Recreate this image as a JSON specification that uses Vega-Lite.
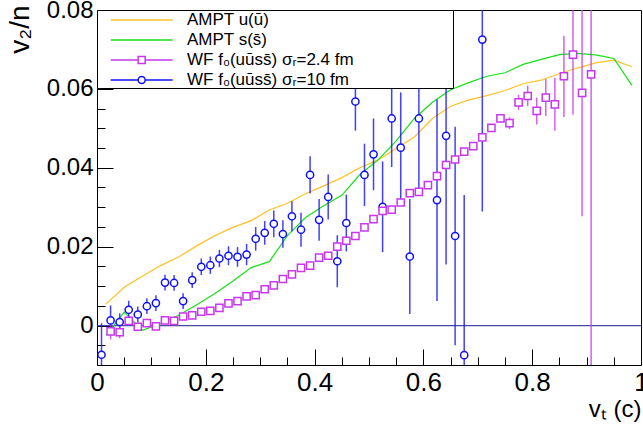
{
  "$schema": "https://vega.github.io/schema/vega-lite/v6.json",
  "width": 544,
  "height": 355,
  "autosize": {"type": "none"},
  "padding": {"left": 97, "top": 10, "right": 2, "bottom": 71},
  "background": "white",
  "config": {"view": {"stroke": "black", "strokeWidth": 1}, "font": "Liberation Sans"},
  "resolve": {"axis": {"x": "independent", "y": "independent"}},
  "datasets": {
    "ampt": [
      {"s": "AMPT u(ū)", "x": 0.0167, "y": 0.0055}, {"s": "AMPT u(ū)", "x": 0.05, "y": 0.0097}, {"s": "AMPT u(ū)", "x": 0.0833, "y": 0.0125}, {"s": "AMPT u(ū)", "x": 0.1167, "y": 0.0152}, {"s": "AMPT u(ū)", "x": 0.15, "y": 0.0174}, {"s": "AMPT u(ū)", "x": 0.1833, "y": 0.0202}, {"s": "AMPT u(ū)", "x": 0.2167, "y": 0.0228}, {"s": "AMPT u(ū)", "x": 0.25, "y": 0.0249}, {"s": "AMPT u(ū)", "x": 0.2833, "y": 0.0266}, {"s": "AMPT u(ū)", "x": 0.3167, "y": 0.0293}, {"s": "AMPT u(ū)", "x": 0.35, "y": 0.031}, {"s": "AMPT u(ū)", "x": 0.3833, "y": 0.0334}, {"s": "AMPT u(ū)", "x": 0.4167, "y": 0.0354}, {"s": "AMPT u(ū)", "x": 0.45, "y": 0.0375}, {"s": "AMPT u(ū)", "x": 0.4833, "y": 0.04}, {"s": "AMPT u(ū)", "x": 0.5167, "y": 0.042}, {"s": "AMPT u(ū)", "x": 0.55, "y": 0.0449}, {"s": "AMPT u(ū)", "x": 0.5833, "y": 0.0478}, {"s": "AMPT u(ū)", "x": 0.6167, "y": 0.0525}, {"s": "AMPT u(ū)", "x": 0.65, "y": 0.0556}, {"s": "AMPT u(ū)", "x": 0.6833, "y": 0.0572}, {"s": "AMPT u(ū)", "x": 0.7167, "y": 0.0583}, {"s": "AMPT u(ū)", "x": 0.75, "y": 0.0596}, {"s": "AMPT u(ū)", "x": 0.7833, "y": 0.0613}, {"s": "AMPT u(ū)", "x": 0.8167, "y": 0.0622}, {"s": "AMPT u(ū)", "x": 0.85, "y": 0.0639}, {"s": "AMPT u(ū)", "x": 0.8833, "y": 0.0653}, {"s": "AMPT u(ū)", "x": 0.9167, "y": 0.0666}, {"s": "AMPT u(ū)", "x": 0.95, "y": 0.0673}, {"s": "AMPT u(ū)", "x": 0.9833, "y": 0.0656},
      {"s": "AMPT s(s̄)", "x": 0.0167, "y": -0.0024}, {"s": "AMPT s(s̄)", "x": 0.05, "y": 0.0034}, {"s": "AMPT s(s̄)", "x": 0.0833, "y": -0.0012}, {"s": "AMPT s(s̄)", "x": 0.1167, "y": 0.0005}, {"s": "AMPT s(s̄)", "x": 0.15, "y": 0.0026}, {"s": "AMPT s(s̄)", "x": 0.1833, "y": 0.0053}, {"s": "AMPT s(s̄)", "x": 0.2167, "y": 0.0081}, {"s": "AMPT s(s̄)", "x": 0.25, "y": 0.0113}, {"s": "AMPT s(s̄)", "x": 0.2833, "y": 0.0147}, {"s": "AMPT s(s̄)", "x": 0.3167, "y": 0.0162}, {"s": "AMPT s(s̄)", "x": 0.35, "y": 0.0228}, {"s": "AMPT s(s̄)", "x": 0.3833, "y": 0.0274}, {"s": "AMPT s(s̄)", "x": 0.4167, "y": 0.0304}, {"s": "AMPT s(s̄)", "x": 0.45, "y": 0.033}, {"s": "AMPT s(s̄)", "x": 0.4833, "y": 0.0383}, {"s": "AMPT s(s̄)", "x": 0.5167, "y": 0.042}, {"s": "AMPT s(s̄)", "x": 0.55, "y": 0.0468}, {"s": "AMPT s(s̄)", "x": 0.5833, "y": 0.0525}, {"s": "AMPT s(s̄)", "x": 0.6167, "y": 0.0566}, {"s": "AMPT s(s̄)", "x": 0.65, "y": 0.0598}, {"s": "AMPT s(s̄)", "x": 0.6833, "y": 0.0616}, {"s": "AMPT s(s̄)", "x": 0.7167, "y": 0.0632}, {"s": "AMPT s(s̄)", "x": 0.75, "y": 0.0641}, {"s": "AMPT s(s̄)", "x": 0.7833, "y": 0.0662}, {"s": "AMPT s(s̄)", "x": 0.8167, "y": 0.0675}, {"s": "AMPT s(s̄)", "x": 0.85, "y": 0.0687}, {"s": "AMPT s(s̄)", "x": 0.8833, "y": 0.069}, {"s": "AMPT s(s̄)", "x": 0.9167, "y": 0.0686}, {"s": "AMPT s(s̄)", "x": 0.95, "y": 0.0677}, {"s": "AMPT s(s̄)", "x": 0.9833, "y": 0.0609}
    ],
    "wf": [
      {"s": "WF f₀(uūss̄) σᵣ=10 fm", "x": 0.0083, "y": -0.0074, "lo": -0.0154, "hi": 0.0006},
      {"s": "WF f₀(uūss̄) σᵣ=10 fm", "x": 0.025, "y": 0.0013, "lo": -0.0025, "hi": 0.0051},
      {"s": "WF f₀(uūss̄) σᵣ=10 fm", "x": 0.0417, "y": 0.0009, "lo": -0.0013, "hi": 0.0031},
      {"s": "WF f₀(uūss̄) σᵣ=10 fm", "x": 0.0583, "y": 0.004, "lo": 0.0017, "hi": 0.0063},
      {"s": "WF f₀(uūss̄) σᵣ=10 fm", "x": 0.075, "y": 0.0028, "lo": 0.0008, "hi": 0.0048},
      {"s": "WF f₀(uūss̄) σᵣ=10 fm", "x": 0.0917, "y": 0.0049, "lo": 0.0029, "hi": 0.0069},
      {"s": "WF f₀(uūss̄) σᵣ=10 fm", "x": 0.1083, "y": 0.0057, "lo": 0.0037, "hi": 0.0077},
      {"s": "WF f₀(uūss̄) σᵣ=10 fm", "x": 0.125, "y": 0.0109, "lo": 0.0089, "hi": 0.0129},
      {"s": "WF f₀(uūss̄) σᵣ=10 fm", "x": 0.1417, "y": 0.0108, "lo": 0.0088, "hi": 0.0128},
      {"s": "WF f₀(uūss̄) σᵣ=10 fm", "x": 0.1583, "y": 0.0062, "lo": 0.0042, "hi": 0.0082},
      {"s": "WF f₀(uūss̄) σᵣ=10 fm", "x": 0.175, "y": 0.0115, "lo": 0.0095, "hi": 0.0135},
      {"s": "WF f₀(uūss̄) σᵣ=10 fm", "x": 0.1917, "y": 0.0149, "lo": 0.0128, "hi": 0.017},
      {"s": "WF f₀(uūss̄) σᵣ=10 fm", "x": 0.2083, "y": 0.0153, "lo": 0.0131, "hi": 0.0175},
      {"s": "WF f₀(uūss̄) σᵣ=10 fm", "x": 0.225, "y": 0.017, "lo": 0.0148, "hi": 0.0192},
      {"s": "WF f₀(uūss̄) σᵣ=10 fm", "x": 0.2417, "y": 0.0177, "lo": 0.0153, "hi": 0.0201},
      {"s": "WF f₀(uūss̄) σᵣ=10 fm", "x": 0.2583, "y": 0.0174, "lo": 0.0149, "hi": 0.0199},
      {"s": "WF f₀(uūss̄) σᵣ=10 fm", "x": 0.275, "y": 0.018, "lo": 0.0153, "hi": 0.0207},
      {"s": "WF f₀(uūss̄) σᵣ=10 fm", "x": 0.2917, "y": 0.022, "lo": 0.019, "hi": 0.025},
      {"s": "WF f₀(uūss̄) σᵣ=10 fm", "x": 0.3083, "y": 0.0235, "lo": 0.0205, "hi": 0.0265},
      {"s": "WF f₀(uūss̄) σᵣ=10 fm", "x": 0.325, "y": 0.0258, "lo": 0.0224, "hi": 0.0292},
      {"s": "WF f₀(uūss̄) σᵣ=10 fm", "x": 0.3417, "y": 0.0232, "lo": 0.0197, "hi": 0.0267},
      {"s": "WF f₀(uūss̄) σᵣ=10 fm", "x": 0.3583, "y": 0.0277, "lo": 0.0239, "hi": 0.0315},
      {"s": "WF f₀(uūss̄) σᵣ=10 fm", "x": 0.375, "y": 0.0243, "lo": 0.02, "hi": 0.0286},
      {"s": "WF f₀(uūss̄) σᵣ=10 fm", "x": 0.3917, "y": 0.0382, "lo": 0.0335, "hi": 0.0429},
      {"s": "WF f₀(uūss̄) σᵣ=10 fm", "x": 0.4083, "y": 0.0268, "lo": 0.0215, "hi": 0.0321},
      {"s": "WF f₀(uūss̄) σᵣ=10 fm", "x": 0.425, "y": 0.0326, "lo": 0.0269, "hi": 0.0383},
      {"s": "WF f₀(uūss̄) σᵣ=10 fm", "x": 0.4417, "y": 0.0163, "lo": 0.0097, "hi": 0.0229},
      {"s": "WF f₀(uūss̄) σᵣ=10 fm", "x": 0.4583, "y": 0.026, "lo": 0.0188, "hi": 0.0332},
      {"s": "WF f₀(uūss̄) σᵣ=10 fm", "x": 0.475, "y": 0.0568, "lo": 0.0494, "hi": 0.0642},
      {"s": "WF f₀(uūss̄) σᵣ=10 fm", "x": 0.4917, "y": 0.0382, "lo": 0.0303, "hi": 0.0461},
      {"s": "WF f₀(uūss̄) σᵣ=10 fm", "x": 0.5083, "y": 0.0434, "lo": 0.0343, "hi": 0.0525},
      {"s": "WF f₀(uūss̄) σᵣ=10 fm", "x": 0.525, "y": 0.0301, "lo": 0.0186, "hi": 0.0416},
      {"s": "WF f₀(uūss̄) σᵣ=10 fm", "x": 0.5417, "y": 0.0525, "lo": 0.0402, "hi": 0.0648},
      {"s": "WF f₀(uūss̄) σᵣ=10 fm", "x": 0.5583, "y": 0.0451, "lo": 0.0311, "hi": 0.0591},
      {"s": "WF f₀(uūss̄) σᵣ=10 fm", "x": 0.575, "y": 0.0175, "lo": 0.0029, "hi": 0.0321},
      {"s": "WF f₀(uūss̄) σᵣ=10 fm", "x": 0.5917, "y": 0.0525, "lo": 0.0349, "hi": 0.0701},
      {"s": "WF f₀(uūss̄) σᵣ=10 fm", "x": 0.625, "y": 0.0318, "lo": 0.0062, "hi": 0.0574},
      {"s": "WF f₀(uūss̄) σᵣ=10 fm", "x": 0.6417, "y": 0.0481, "lo": 0.0155, "hi": 0.0807},
      {"s": "WF f₀(uūss̄) σᵣ=10 fm", "x": 0.6583, "y": 0.0227, "lo": -0.005, "hi": 0.0504},
      {"s": "WF f₀(uūss̄) σᵣ=10 fm", "x": 0.675, "y": -0.0075, "lo": -0.0481, "hi": 0.0331},
      {"s": "WF f₀(uūss̄) σᵣ=10 fm", "x": 0.7083, "y": 0.0725, "lo": 0.0289, "hi": 0.1161},
      {"s": "WF f₀(uūss̄) σᵣ=2.4 fm", "x": 0.025, "y": -0.0015, "lo": -0.0035, "hi": 0.0005},
      {"s": "WF f₀(uūss̄) σᵣ=2.4 fm", "x": 0.0417, "y": -0.0017, "lo": -0.0032, "hi": -0.0002},
      {"s": "WF f₀(uūss̄) σᵣ=2.4 fm", "x": 0.0583, "y": 0.0012, "lo": 0.0004, "hi": 0.002},
      {"s": "WF f₀(uūss̄) σᵣ=2.4 fm", "x": 0.075, "y": -0.0003, "lo": -0.0009, "hi": 0.0003},
      {"s": "WF f₀(uūss̄) σᵣ=2.4 fm", "x": 0.0917, "y": 0.0006, "lo": 0.0001, "hi": 0.0011},
      {"s": "WF f₀(uūss̄) σᵣ=2.4 fm", "x": 0.1083, "y": -0.0002, "lo": -0.0007, "hi": 0.0003},
      {"s": "WF f₀(uūss̄) σᵣ=2.4 fm", "x": 0.125, "y": 0.0013, "lo": 0.0008, "hi": 0.0018},
      {"s": "WF f₀(uūss̄) σᵣ=2.4 fm", "x": 0.1417, "y": 0.0012, "lo": 0.0007, "hi": 0.0017},
      {"s": "WF f₀(uūss̄) σᵣ=2.4 fm", "x": 0.1583, "y": 0.0023, "lo": 0.0019, "hi": 0.0027},
      {"s": "WF f₀(uūss̄) σᵣ=2.4 fm", "x": 0.175, "y": 0.0026, "lo": 0.0022, "hi": 0.003},
      {"s": "WF f₀(uūss̄) σᵣ=2.4 fm", "x": 0.1917, "y": 0.0035, "lo": 0.0031, "hi": 0.0039},
      {"s": "WF f₀(uūss̄) σᵣ=2.4 fm", "x": 0.2083, "y": 0.0037, "lo": 0.0033, "hi": 0.0041},
      {"s": "WF f₀(uūss̄) σᵣ=2.4 fm", "x": 0.225, "y": 0.0045, "lo": 0.0041, "hi": 0.0049},
      {"s": "WF f₀(uūss̄) σᵣ=2.4 fm", "x": 0.2417, "y": 0.0056, "lo": 0.0052, "hi": 0.006},
      {"s": "WF f₀(uūss̄) σᵣ=2.4 fm", "x": 0.2583, "y": 0.0062, "lo": 0.0058, "hi": 0.0066},
      {"s": "WF f₀(uūss̄) σᵣ=2.4 fm", "x": 0.275, "y": 0.0074, "lo": 0.007, "hi": 0.0078},
      {"s": "WF f₀(uūss̄) σᵣ=2.4 fm", "x": 0.2917, "y": 0.0077, "lo": 0.0073, "hi": 0.0081},
      {"s": "WF f₀(uūss̄) σᵣ=2.4 fm", "x": 0.3083, "y": 0.0092, "lo": 0.0088, "hi": 0.0096},
      {"s": "WF f₀(uūss̄) σᵣ=2.4 fm", "x": 0.325, "y": 0.0102, "lo": 0.0098, "hi": 0.0106},
      {"s": "WF f₀(uūss̄) σᵣ=2.4 fm", "x": 0.3417, "y": 0.0118, "lo": 0.0114, "hi": 0.0122},
      {"s": "WF f₀(uūss̄) σᵣ=2.4 fm", "x": 0.3583, "y": 0.013, "lo": 0.0126, "hi": 0.0134},
      {"s": "WF f₀(uūss̄) σᵣ=2.4 fm", "x": 0.375, "y": 0.0146, "lo": 0.0142, "hi": 0.015},
      {"s": "WF f₀(uūss̄) σᵣ=2.4 fm", "x": 0.3917, "y": 0.0152, "lo": 0.0148, "hi": 0.0156},
      {"s": "WF f₀(uūss̄) σᵣ=2.4 fm", "x": 0.4083, "y": 0.0172, "lo": 0.0168, "hi": 0.0176},
      {"s": "WF f₀(uūss̄) σᵣ=2.4 fm", "x": 0.425, "y": 0.0177, "lo": 0.0173, "hi": 0.0181},
      {"s": "WF f₀(uūss̄) σᵣ=2.4 fm", "x": 0.4417, "y": 0.02, "lo": 0.0196, "hi": 0.0204},
      {"s": "WF f₀(uūss̄) σᵣ=2.4 fm", "x": 0.4583, "y": 0.0215, "lo": 0.0211, "hi": 0.0219},
      {"s": "WF f₀(uūss̄) σᵣ=2.4 fm", "x": 0.475, "y": 0.0227, "lo": 0.0223, "hi": 0.0231},
      {"s": "WF f₀(uūss̄) σᵣ=2.4 fm", "x": 0.4917, "y": 0.0249, "lo": 0.0245, "hi": 0.0253},
      {"s": "WF f₀(uūss̄) σᵣ=2.4 fm", "x": 0.5083, "y": 0.027, "lo": 0.0266, "hi": 0.0274},
      {"s": "WF f₀(uūss̄) σᵣ=2.4 fm", "x": 0.525, "y": 0.0291, "lo": 0.0287, "hi": 0.0295},
      {"s": "WF f₀(uūss̄) σᵣ=2.4 fm", "x": 0.5417, "y": 0.0294, "lo": 0.0289, "hi": 0.0299},
      {"s": "WF f₀(uūss̄) σᵣ=2.4 fm", "x": 0.5583, "y": 0.0312, "lo": 0.0307, "hi": 0.0317},
      {"s": "WF f₀(uūss̄) σᵣ=2.4 fm", "x": 0.575, "y": 0.0336, "lo": 0.0331, "hi": 0.0341},
      {"s": "WF f₀(uūss̄) σᵣ=2.4 fm", "x": 0.5917, "y": 0.0339, "lo": 0.0334, "hi": 0.0344},
      {"s": "WF f₀(uūss̄) σᵣ=2.4 fm", "x": 0.6083, "y": 0.0356, "lo": 0.0351, "hi": 0.0361},
      {"s": "WF f₀(uūss̄) σᵣ=2.4 fm", "x": 0.625, "y": 0.0379, "lo": 0.0374, "hi": 0.0384},
      {"s": "WF f₀(uūss̄) σᵣ=2.4 fm", "x": 0.6417, "y": 0.0407, "lo": 0.0402, "hi": 0.0412},
      {"s": "WF f₀(uūss̄) σᵣ=2.4 fm", "x": 0.6583, "y": 0.0421, "lo": 0.0416, "hi": 0.0426},
      {"s": "WF f₀(uūss̄) σᵣ=2.4 fm", "x": 0.675, "y": 0.0441, "lo": 0.0436, "hi": 0.0446},
      {"s": "WF f₀(uūss̄) σᵣ=2.4 fm", "x": 0.6917, "y": 0.0455, "lo": 0.0449, "hi": 0.0461},
      {"s": "WF f₀(uūss̄) σᵣ=2.4 fm", "x": 0.7083, "y": 0.0477, "lo": 0.0471, "hi": 0.0483},
      {"s": "WF f₀(uūss̄) σᵣ=2.4 fm", "x": 0.725, "y": 0.0501, "lo": 0.0494, "hi": 0.0508},
      {"s": "WF f₀(uūss̄) σᵣ=2.4 fm", "x": 0.7417, "y": 0.0525, "lo": 0.0515, "hi": 0.0535},
      {"s": "WF f₀(uūss̄) σᵣ=2.4 fm", "x": 0.7583, "y": 0.0513, "lo": 0.0498, "hi": 0.0528},
      {"s": "WF f₀(uūss̄) σᵣ=2.4 fm", "x": 0.775, "y": 0.0566, "lo": 0.0547, "hi": 0.0585},
      {"s": "WF f₀(uūss̄) σᵣ=2.4 fm", "x": 0.7917, "y": 0.0582, "lo": 0.0556, "hi": 0.0608},
      {"s": "WF f₀(uūss̄) σᵣ=2.4 fm", "x": 0.8083, "y": 0.0544, "lo": 0.051, "hi": 0.0578},
      {"s": "WF f₀(uūss̄) σᵣ=2.4 fm", "x": 0.825, "y": 0.0578, "lo": 0.0531, "hi": 0.0625},
      {"s": "WF f₀(uūss̄) σᵣ=2.4 fm", "x": 0.8417, "y": 0.0561, "lo": 0.0494, "hi": 0.0628},
      {"s": "WF f₀(uūss̄) σᵣ=2.4 fm", "x": 0.8583, "y": 0.0632, "lo": 0.0529, "hi": 0.0735},
      {"s": "WF f₀(uūss̄) σᵣ=2.4 fm", "x": 0.875, "y": 0.0687, "lo": 0.0535, "hi": 0.0839},
      {"s": "WF f₀(uūss̄) σᵣ=2.4 fm", "x": 0.8917, "y": 0.059, "lo": 0.0277, "hi": 0.0903},
      {"s": "WF f₀(uūss̄) σᵣ=2.4 fm", "x": 0.9083, "y": 0.0637, "lo": -0.0363, "hi": 0.1637}
    ]
  },
  "layer": [
    {
      "data": {"values": [{"z": 0}]},
      "mark": {"type": "rule", "color": "#4848a8", "strokeWidth": 1.2},
      "encoding": {"y": {"field": "z", "type": "quantitative", "axis": null}}
    },
    {
      "data": {"name": "ampt"},
      "mark": {"type": "line", "strokeWidth": 1.2, "clip": true},
      "encoding": {
        "x": {
          "field": "x", "type": "quantitative",
          "scale": {"domain": [0, 1], "nice": false, "zero": false},
          "axis": {
            "orient": "bottom",
            "values": [0, 0.2, 0.4, 0.6, 0.8, 1],
            "format": ".1~f",
            "tickSize": -16,
            "tickColor": "black", "tickWidth": 1, "domain": false, "grid": false,
            "labelFont": "Liberation Sans", "labelFontSize": 26, "labelColor": "black",
            "labelPadding": 20, "labelFlush": false, "labelOverlap": false, "labelBound": false,
            "title": "vₜ (c)", "titleFont": "Liberation Sans", "titleFontSize": 24, "titleFontWeight": "normal", "titleColor": "black",
            "titleX": 544, "titleY": 51, "titleAlign": "right", "titleBaseline": "alphabetic"
          }
        },
        "y": {
          "field": "y", "type": "quantitative",
          "scale": {"domain": [-0.01, 0.08], "nice": false, "zero": false},
          "axis": {
            "orient": "left",
            "values": [0, 0.02, 0.04, 0.06, 0.08],
            "format": ".2~f",
            "tickSize": -16,
            "tickColor": "black", "tickWidth": 1, "domain": false, "grid": false,
            "labelFont": "Liberation Sans", "labelFontSize": 24, "labelColor": "black",
            "labelPadding": 20, "labelFlush": false, "labelOverlap": false, "labelBound": false,
            "title": "v₂/n", "titleFont": "Liberation Sans", "titleFontSize": 28, "titleFontWeight": "normal", "titleColor": "black",
            "titleX": -77, "titleY": -5, "titleAngle": -90, "titleAlign": "right", "titleBaseline": "middle"
          }
        },
        "color": {
          "field": "s", "type": "nominal",
          "scale": {
            "domain": ["AMPT u(ū)", "AMPT s(s̄)", "WF f₀(uūss̄) σᵣ=2.4 fm", "WF f₀(uūss̄) σᵣ=10 fm"],
            "range": ["#ffc125", "#18e018", "#c837f0", "#1010ff"]
          },
          "legend": {
            "orient": "top-left", "offset": 0, "title": null, "padding": 0, "rowPadding": 2,
            "fillColor": "white", "strokeColor": "black",
            "labelFont": "Liberation Sans", "labelFontSize": 17, "labelColor": "black", "labelLimit": 600,
            "labelOffset": 70, "symbolSize": 342, "symbolStrokeWidth": 1.5,
            "labelExpr": "datum.label + '\u00a0\u00a0\u00a0\u00a0\u00a0\u00a0\u00a0\u00a0\u00a0\u00a0\u00a0\u00a0\u00a0\u00a0\u00a0\u00a0\u00a0\u00a0\u00a0\u00a0\u00a0\u200b'",
            "encode": {
              "symbols": {
                "update": {
                  "shape": {"signal": "indexof(datum.value, 'AMPT') == 0 ? 'M0.4,0H7.1' : (indexof(datum.value, '2.4') >= 0 ? 'M0.4,0H3.37M4.13,0H7.1M3.37,-0.38H4.13V0.38H3.37Z' : 'M0.4,0H3.37M4.13,0H7.1M3.37,0A0.38,0.38 0 1,0 4.13,0A0.38,0.38 0 1,0 3.37,0Z')"},
                  "size": {"value": 342},
                  "strokeWidth": {"value": 1.5},
                  "fill": {"value": "white"},
                  "opacity": {"value": 1}
                }
              }
            }
          }
        }
      }
    },
    {
      "data": {"name": "wf"},
      "mark": {"type": "rule", "strokeWidth": 1.5, "opacity": 0.8, "clip": true},
      "encoding": {
        "x": {
          "field": "x", "type": "quantitative",
          "axis": {
            "orient": "bottom",
            "values": [0.05, 0.1, 0.15, 0.25, 0.3, 0.35, 0.45, 0.5, 0.55, 0.65, 0.7, 0.75, 0.85, 0.9, 0.95],
            "tickSize": -8, "tickColor": "black", "tickWidth": 1,
            "labels": false, "domain": false, "grid": false, "title": null
          }
        },
        "y": {
          "field": "lo", "type": "quantitative",
          "axis": {
            "orient": "left",
            "values": [-0.005, 0.005, 0.01, 0.015, 0.025, 0.03, 0.035, 0.045, 0.05, 0.055, 0.065, 0.07, 0.075],
            "tickSize": -8, "tickColor": "black", "tickWidth": 1,
            "labels": false, "domain": false, "grid": false, "title": null
          }
        },
        "y2": {"field": "hi"},
        "color": {"field": "s", "type": "nominal"}
      }
    },
    {
      "data": {"name": "wf"},
      "mark": {"type": "point", "filled": false, "fill": "white", "size": 52, "strokeWidth": 1.5, "opacity": 1, "clip": true},
      "encoding": {
        "x": {"field": "x", "type": "quantitative", "axis": null},
        "y": {"field": "y", "type": "quantitative", "axis": null},
        "color": {"field": "s", "type": "nominal"},
        "shape": {
          "field": "s", "type": "nominal",
          "scale": {"domain": ["WF f₀(uūss̄) σᵣ=2.4 fm", "WF f₀(uūss̄) σᵣ=10 fm"], "range": ["square", "circle"]},
          "legend": null
        }
      }
    }
  ]
}
